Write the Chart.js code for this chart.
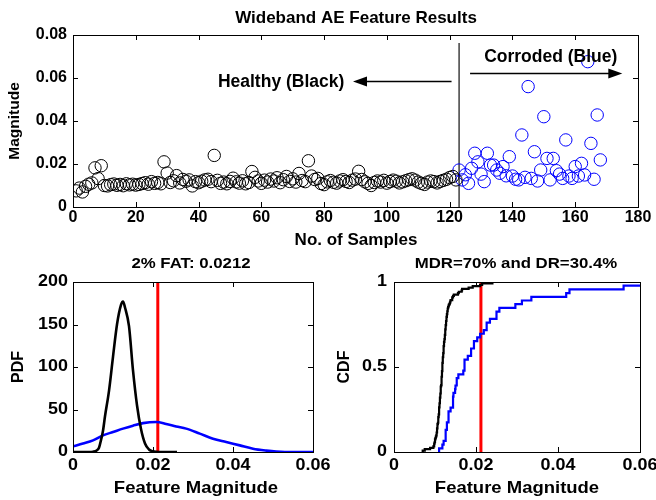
<!DOCTYPE html>
<html>
<head>
<meta charset="utf-8">
<script src="https://cdn.jsdelivr.net/npm/chart.js@4"></script>
<style>
  body { margin: 0; background: #fff; }
  #wrap { position: relative; width: 656px; height: 500px; background: #fff; }
  canvas { position: absolute; }
</style>
</head>
<body>
<div id="wrap">
  <canvas id="top" width="656" height="250" style="left:0;top:0"></canvas>
  <canvas id="pdf" width="335" height="250" style="left:0;top:250px"></canvas>
  <canvas id="cdf" width="321" height="250" style="left:335px;top:250px"></canvas>
</div>
<script>
// ---- data ----
// healthy samples start at no. 1, corroded ones at no. 123
const healthyStart = 1;
const healthyMag = [
  0.0075, 0.0088, 0.0070, 0.0096, 0.0106, 0.0112, 0.0182, 0.0132, 0.0192, 0.0100,
  0.0098, 0.0104, 0.0107, 0.0101, 0.0105, 0.0099, 0.0108, 0.0103, 0.0106, 0.0102,
  0.0105, 0.0109, 0.0113, 0.0106, 0.0118, 0.0110, 0.0114, 0.0108, 0.0210, 0.0158,
  0.0114, 0.0122, 0.0146, 0.0112, 0.0128, 0.0120, 0.0126, 0.0098, 0.0118, 0.0113,
  0.0120, 0.0126, 0.0129, 0.0118, 0.0240, 0.0124, 0.0110, 0.0116, 0.0108, 0.0119,
  0.0134, 0.0117, 0.0111, 0.0122, 0.0108, 0.0114, 0.0165, 0.0138, 0.0121, 0.0110,
  0.0125, 0.0116, 0.0130, 0.0121, 0.0136, 0.0113, 0.0127, 0.0142, 0.0119, 0.0131,
  0.0116, 0.0156, 0.0123, 0.0118, 0.0215, 0.0144, 0.0128, 0.0133, 0.0109, 0.0104,
  0.0117, 0.0123, 0.0115, 0.0111, 0.0121, 0.0127, 0.0119, 0.0114, 0.0125, 0.0130,
  0.0166, 0.0128, 0.0117, 0.0110, 0.0100, 0.0114, 0.0121, 0.0116, 0.0124, 0.0111,
  0.0118, 0.0125, 0.0120, 0.0112, 0.0117, 0.0122, 0.0127, 0.0131, 0.0125, 0.0116,
  0.0110, 0.0105, 0.0116, 0.0121, 0.0118, 0.0112, 0.0119, 0.0124, 0.0129, 0.0137,
  0.0142, 0.0126
];
const corrodedStart = 123;
const corrodedMag = [
  0.0172, 0.0126, 0.0150, 0.0110, 0.0180, 0.0250, 0.0210, 0.0153, 0.0118, 0.0250,
  0.0195, 0.0195, 0.0172, 0.0157, 0.0188, 0.0145, 0.0234, 0.0144, 0.0129, 0.0126,
  0.0335, 0.0138, 0.0560, 0.0133, 0.0257, 0.0121, 0.0172, 0.0420, 0.0226, 0.0126,
  0.0226, 0.0169, 0.0153, 0.0133, 0.0312, 0.0144, 0.0133, 0.0188, 0.0144, 0.0203,
  0.0149, 0.0676, 0.0296, 0.0129, 0.0428, 0.0219
];
const dividerSample = 123;
const dividerTop = 0.0763;

// smoothed PDFs
const pdfHealthyX = [0, 0.002, 0.004, 0.005, 0.006, 0.0065, 0.007, 0.0075, 0.008, 0.009, 0.010, 0.011,
  0.012, 0.0125, 0.013, 0.014, 0.015, 0.016, 0.017, 0.018, 0.019, 0.020, 0.021, 0.022, 0.026];
const pdfHealthyY = [0, 0, 0, 0.3, 2, 5, 14, 25, 42, 72, 112, 150,
  173, 177, 170, 148, 96, 55, 27, 10, 3, 0.8, 0.2, 0, 0];
const pdfCorrodedX = [0, 0.0025, 0.005, 0.0075, 0.010, 0.0125, 0.015, 0.0175, 0.0208, 0.0233, 0.0258,
  0.0283, 0.0317, 0.035, 0.0383, 0.0417, 0.045, 0.0483, 0.0508, 0.053, 0.06];
const pdfCorrodedY = [6.7, 10, 13.7, 19.6, 23.5, 27.5, 31, 34, 35.3, 33, 30,
  27.5, 21.6, 15.7, 11.8, 7.8, 3.9, 1.6, 0.4, 0, 0];

const fatThreshold = 0.0212;

// tick labels
const topXTicks = [0, 20, 40, 60, 80, 100, 120, 140, 160, 180];
const topYTicks = [0, 0.02, 0.04, 0.06, 0.08];
const featXTicks = [0, 0.02, 0.04, 0.06];
const pdfYTicks = [0, 50, 100, 150, 200];
const cdfYTicks = [0, 0.5, 1];

const FONT = '"Liberation Sans", Arial, Helvetica, sans-serif';

function drawText(ctx, s, x, y, size, o) {
  o = o || {};
  ctx.save();
  ctx.translate(x, y);
  if (o.rot) ctx.rotate(o.rot);
  ctx.scale(o.sx || 1, 1);
  ctx.font = 'bold ' + size + 'px ' + FONT;
  ctx.textAlign = o.align || 'center';
  ctx.textBaseline = o.base || 'middle';
  ctx.fillStyle = '#000';
  ctx.fillText(s, 0, 0);
  ctx.restore();
}

// matlab style box with inward ticks on all four sides
const boxPlugin = {
  id: 'mbox',
  afterDraw(chart, args, o) {
    const ctx = chart.ctx, a = chart.chartArea;
    const xs = chart.scales.x, ys = chart.scales.y;
    const tl = 5;
    ctx.save();
    ctx.strokeStyle = '#000';
    ctx.lineWidth = 1;
    ctx.strokeRect(Math.round(a.left) + 0.5, Math.round(a.top) + 0.5,
      Math.round(a.right - a.left), Math.round(a.bottom - a.top));
    ctx.beginPath();
    o.xTicks.forEach(v => {
      const px = Math.round(xs.getPixelForValue(v)) + 0.5;
      ctx.moveTo(px, a.bottom); ctx.lineTo(px, a.bottom - tl);
      ctx.moveTo(px, a.top); ctx.lineTo(px, a.top + tl);
    });
    o.yTicks.forEach(v => {
      const py = Math.round(ys.getPixelForValue(v)) + 0.5;
      ctx.moveTo(a.left, py); ctx.lineTo(a.left + tl, py);
      ctx.moveTo(a.right, py); ctx.lineTo(a.right - tl, py);
    });
    ctx.stroke();
    ctx.restore();
    o.xTicks.forEach(v => drawText(ctx, String(v), xs.getPixelForValue(v), a.bottom + o.xGap,
      o.tickSize, { base: 'top', sx: o.sx }));
    o.yTicks.forEach(v => drawText(ctx, String(v), a.left - o.yGap, ys.getPixelForValue(v),
      o.tickSize, { align: 'right', sx: o.sx }));
    const t = o.title;
    drawText(ctx, t.text, t.x, t.y, t.size, { sx: o.sx });
    const xt = o.xTitle;
    drawText(ctx, xt.text, xt.x, xt.y, xt.size, { sx: o.sx });
    const yt = o.yTitle;
    drawText(ctx, yt.text, yt.x, yt.y, yt.size, { rot: -Math.PI / 2 });
  }
};

// arrows and region labels of the top plot
const regionPlugin = {
  id: 'regions',
  afterDraw(chart) {
    const ctx = chart.ctx, xs = chart.scales.x, ys = chart.scales.y;
    function arrow(x0, x1, yv) {
      const p0 = xs.getPixelForValue(x0), p1 = xs.getPixelForValue(x1);
      const py = Math.round(ys.getPixelForValue(yv)) + 0.5;
      const dir = p1 > p0 ? 1 : -1;
      ctx.save();
      ctx.strokeStyle = '#000'; ctx.fillStyle = '#000'; ctx.lineWidth = 1.3;
      ctx.beginPath(); ctx.moveTo(p0, py); ctx.lineTo(p1 - dir * 10, py); ctx.stroke();
      ctx.beginPath();
      ctx.moveTo(p1, py);
      ctx.lineTo(p1 - dir * 14, py - 5);
      ctx.lineTo(p1 - dir * 14, py + 5);
      ctx.closePath(); ctx.fill();
      ctx.restore();
    }
    arrow(120.6, 89.2, 0.0586);
    arrow(126.5, 175, 0.0622);
    drawText(ctx, 'Healthy (Black)', xs.getPixelForValue(66.3), ys.getPixelForValue(0.058), 17.5);
    drawText(ctx, 'Corroded (Blue)', xs.getPixelForValue(152.2), ys.getPixelForValue(0.0695), 17.5);
  }
};

Chart.register(boxPlugin);

const healthyPts = healthyMag.map((v, i) => ({ x: healthyStart + i, y: v }));
const corrodedPts = corrodedMag.map((v, i) => ({ x: corrodedStart + i, y: v }));

function ecdf(vals) {
  const s = vals.slice().sort((a, b) => a - b);
  const pts = [{ x: s[0], y: 0 }];
  s.forEach((v, i) => pts.push({ x: v, y: (i + 1) / s.length }));
  return pts;
}

const common = {
  responsive: false,
  animation: false,
  devicePixelRatio: 1,
  events: [],
  plugins: { legend: { display: false }, tooltip: { enabled: false } }
};

// top: scatter of feature magnitudes
new Chart(document.getElementById('top'), {
  type: 'scatter',
  data: {
    datasets: [
      { data: healthyPts, borderColor: '#000', backgroundColor: 'rgba(0,0,0,0)',
        pointRadius: 6.2, pointBorderWidth: 1 },
      { data: corrodedPts, borderColor: '#0000ff', backgroundColor: 'rgba(0,0,0,0)',
        pointRadius: 6.2, pointBorderWidth: 1 },
      { data: [{ x: dividerSample, y: 0 }, { x: dividerSample, y: dividerTop }],
        showLine: true, borderColor: '#222', borderWidth: 1.3, pointRadius: 0 }
    ]
  },
  options: Object.assign({}, common, {
    layout: { padding: { left: 73, top: 35, right: 18, bottom: 43 } },
    scales: {
      x: { type: 'linear', display: false, min: 0, max: 180 },
      y: { type: 'linear', display: false, min: 0, max: 0.08 }
    },
    plugins: Object.assign({}, common.plugins, {
      mbox: {
        xTicks: topXTicks, yTicks: topYTicks, tickSize: 16, xGap: 3, yGap: 6, sx: 1,
        title: { text: 'Wideband AE Feature Results', x: 356, y: 18, size: 17 },
        xTitle: { text: 'No. of Samples', x: 356, y: 240, size: 17 },
        yTitle: { text: 'Magnitude', x: 15, y: 121, size: 15.5 }
      }
    })
  }),
  plugins: [regionPlugin]
});

// bottom left: PDFs
new Chart(document.getElementById('pdf'), {
  type: 'scatter',
  data: {
    datasets: [
      { data: pdfHealthyX.map((x, i) => ({ x: x, y: pdfHealthyY[i] })), showLine: true,
        borderColor: '#000', borderWidth: 2.6, pointRadius: 0, cubicInterpolationMode: 'monotone' },
      { data: pdfCorrodedX.map((x, i) => ({ x: x, y: pdfCorrodedY[i] })), showLine: true,
        borderColor: '#0000ff', borderWidth: 2.6, pointRadius: 0, cubicInterpolationMode: 'monotone' },
      { data: [{ x: fatThreshold, y: 0 }, { x: fatThreshold, y: 200 }], showLine: true,
        borderColor: '#ff0000', borderWidth: 3, pointRadius: 0 }
    ]
  },
  options: Object.assign({}, common, {
    layout: { padding: { left: 73, top: 32, right: 22, bottom: 48 } },
    scales: {
      x: { type: 'linear', display: false, min: 0, max: 0.06 },
      y: { type: 'linear', display: false, min: 0, max: 200 }
    },
    plugins: Object.assign({}, common.plugins, {
      mbox: {
        xTicks: featXTicks, yTicks: pdfYTicks, tickSize: 16, xGap: 6, yGap: 5, sx: 1.12,
        title: { text: '2% FAT: 0.0212', x: 191, y: 14, size: 15 },
        xTitle: { text: 'Feature Magnitude', x: 196, y: 238, size: 16.5 },
        yTitle: { text: 'PDF', x: 19, y: 117, size: 16 }
      }
    })
  })
});

// bottom right: CDFs
new Chart(document.getElementById('cdf'), {
  type: 'scatter',
  data: {
    datasets: [
      { data: ecdf(healthyMag), showLine: true, stepped: 'before',
        borderColor: '#000', borderWidth: 2.2, pointRadius: 0 },
      { data: ecdf(corrodedMag), showLine: true, stepped: 'before',
        borderColor: '#0000ff', borderWidth: 2.2, pointRadius: 0 },
      { data: [{ x: fatThreshold, y: 0 }, { x: fatThreshold, y: 1 }], showLine: true,
        borderColor: '#ff0000', borderWidth: 3, pointRadius: 0 }
    ]
  },
  options: Object.assign({}, common, {
    layout: { padding: { left: 59, top: 32, right: 16, bottom: 48 } },
    scales: {
      x: { type: 'linear', display: false, min: 0, max: 0.06 },
      y: { type: 'linear', display: false, min: 0, max: 1 }
    },
    plugins: Object.assign({}, common.plugins, {
      mbox: {
        xTicks: featXTicks, yTicks: cdfYTicks, tickSize: 16, xGap: 6, yGap: 7, sx: 1.12,
        title: { text: 'MDR=70% and DR=30.4%', x: 181, y: 14, size: 15 },
        xTitle: { text: 'Feature Magnitude', x: 182, y: 238, size: 16.5 },
        yTitle: { text: 'CDF', x: 10, y: 117, size: 16 }
      }
    })
  })
});
</script>
</body>
</html>
